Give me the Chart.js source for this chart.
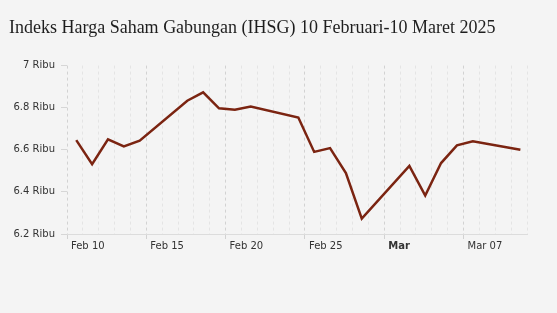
<!DOCTYPE html>
<html>
<head>
<meta charset="utf-8">
<script src="https://cdn.jsdelivr.net/npm/chart.js@4"></script>
<style>
  html, body { margin: 0; padding: 0; background: #f4f4f4; }
  #wrap { width: 557px; height: 313px; position: relative; }
</style>
</head>
<body>
<div id="wrap"><canvas id="ihsg"></canvas></div>
<script>
// trading days, closing value of IHSG
var dates = ['2025-02-10', '2025-02-11', '2025-02-12', '2025-02-13', '2025-02-14',
             '2025-02-17', '2025-02-18', '2025-02-19', '2025-02-20', '2025-02-21',
             '2025-02-24', '2025-02-25', '2025-02-26', '2025-02-27', '2025-02-28',
             '2025-03-03', '2025-03-04', '2025-03-05', '2025-03-06', '2025-03-07',
             '2025-03-10'];
var closes = [6646, 6532, 6650, 6616, 6643,
              6833, 6873, 6797, 6790, 6806,
              6753, 6590, 6608, 6489, 6273,
              6524, 6383, 6537, 6621, 6640,
              6600];
// x tick labels keyed by days since Feb 10
var tickLabels = {0: 'Feb 10', 5: 'Feb 15', 10: 'Feb 20', 15: 'Feb 25', 20: 'Mar', 25: 'Mar 07'};
var yTicks = [6200, 6400, 6600, 6800, 7000];

var start = Date.UTC(2025, 1, 10);
var pointHour = 14;
var points = dates.map(function (d, i) {
    var p = d.split('-');
    var day = (Date.UTC(+p[0], +p[1] - 1, +p[2]) - start) / 86400000;
    return { x: day + pointHour / 24, y: closes[i] };
});

var ctx = document.getElementById('ihsg').getContext('2d');
var myChart = new Chart(ctx, {
    type: 'line',
    data: {
        datasets: [{
            label: 'IHSG',
            data: points,
            borderColor: '#7b2411',
            borderWidth: 2.5,
            pointRadius: 0,
            tension: 0,
            fill: false
        }]
    },
    options: {
        responsive: true,
        maintainAspectRatio: false,
        animation: false,
        layout: { padding: { left: 9, right: 30, top: 0, bottom: 60 } },
        plugins: {
            legend: { display: false },
            tooltip: { enabled: false },
            title: {
                display: true,
                text: 'Indeks Harga Saham Gabungan (IHSG) 10 Februari-10 Maret 2025',
                align: 'start',
                color: '#1e1e1e',
                font: { family: 'Liberation Serif', size: 18, weight: 'normal' },
                padding: { top: 17, bottom: 27 }
            }
        },
        scales: {
            x: {
                type: 'linear',
                min: 0,
                max: 29,
                ticks: {
                    stepSize: 1,
                    autoSkip: false,
                    maxRotation: 0,
                    align: 'start',
                    labelOffset: 4,
                    padding: 1,
                    color: '#333',
                    font: function (c) {
                        return { family: 'DejaVu Sans', size: 10, weight: c.tick && c.tick.value === 20 ? 'bold' : 'normal' };
                    },
                    callback: function (v) { return tickLabels[v] || ''; }
                },
                grid: {
                    color: function (c) { return c.tick && c.tick.value % 5 === 0 ? '#d2d2d2' : '#e4e4e4'; },
                    tickColor: function (c) { return c.tick && c.tick.value % 5 === 0 && c.tick.value <= 25 ? '#d2d2d2' : 'rgba(0,0,0,0)'; },
                    tickLength: 5,
                    tickBorderDash: [],
                    lineWidth: 1
                },
                border: { display: true, color: '#dcdcdc', width: 1, dash: [3, 3] }
            },
            y: {
                min: 6200,
                max: 7000,
                afterBuildTicks: function (axis) {
                    axis.ticks = yTicks.map(function (v) { return { value: v }; });
                },
                afterFit: function (axis) { axis.width = 58; },
                ticks: {
                    color: '#333',
                    padding: 6,
                    font: { family: 'DejaVu Sans', size: 10 },
                    callback: function (v) { return (v / 1000) + ' Ribu'; }
                },
                grid: {
                    drawOnChartArea: false,
                    tickLength: 6,
                    tickColor: '#d6d6d6'
                },
                border: { display: false }
            }
        }
    }
});
</script>
</body>
</html>
